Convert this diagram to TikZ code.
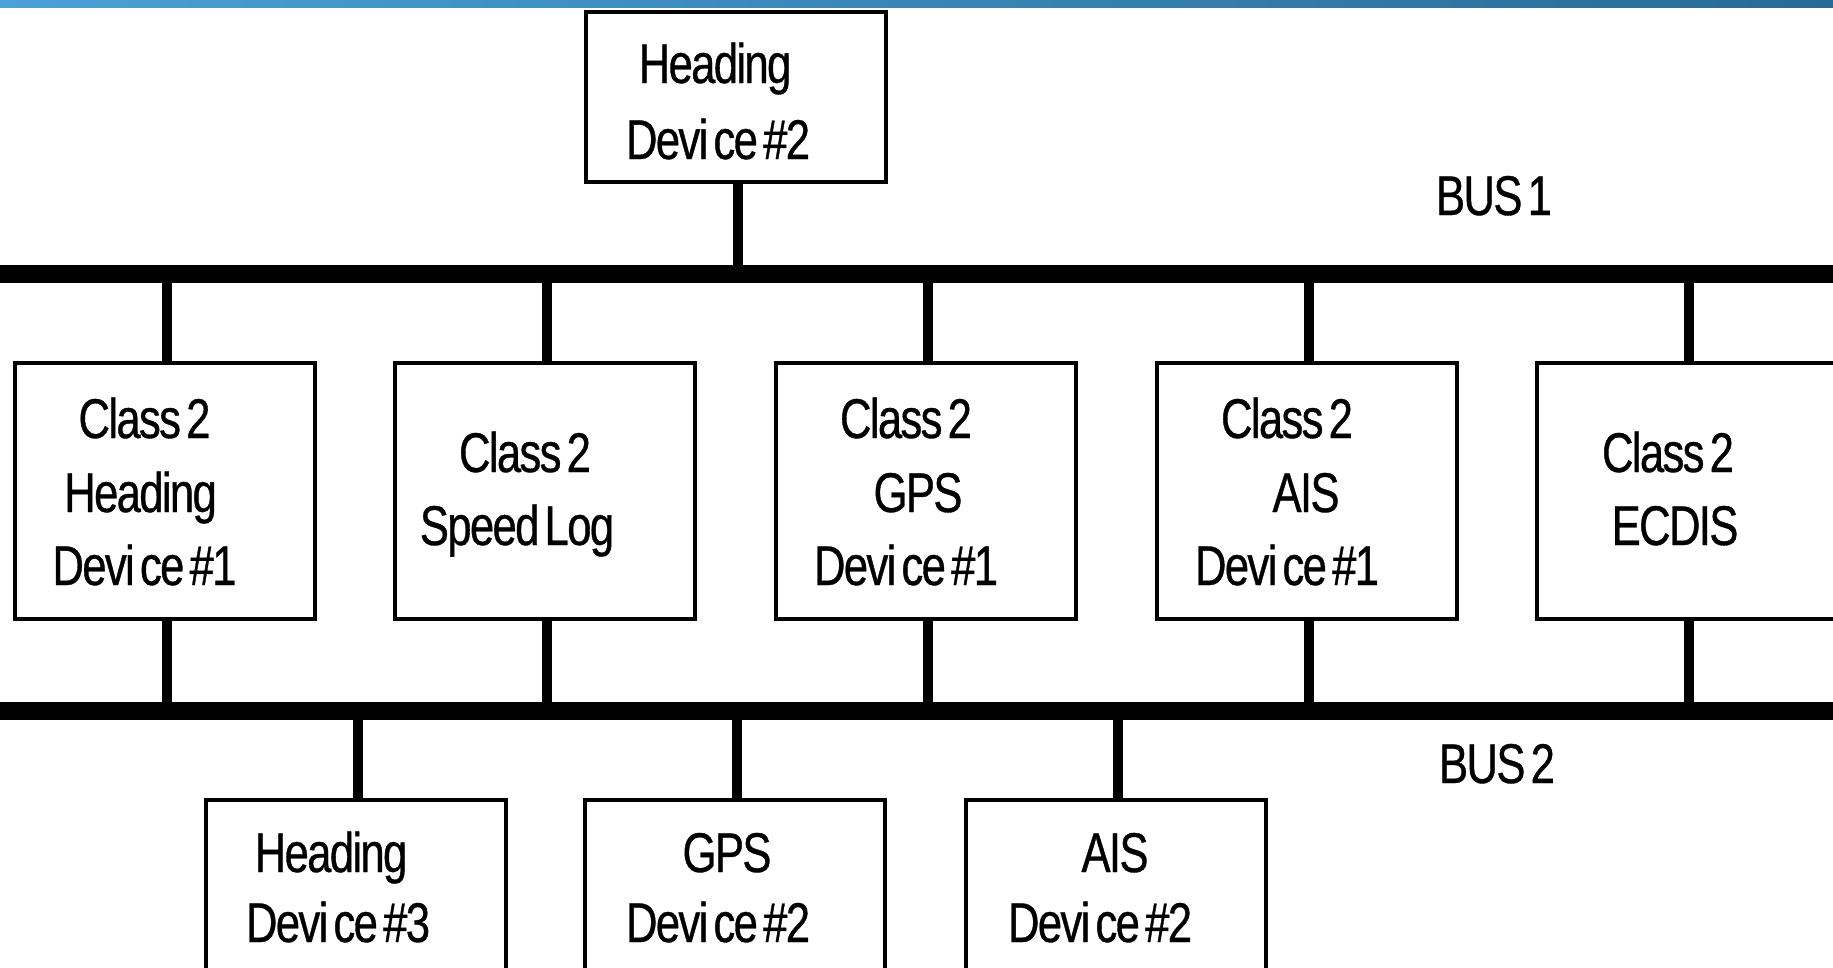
\documentclass[tikz,border=0pt]{standalone}
\usepackage{fontspec}
\newfontfamily\narrowfont[FakeStretch=0.78,LetterSpace=-3,WordSpace=0.5,FakeBold=0.6]{Liberation Sans}
\definecolor{barL}{RGB}{74,161,213}
\definecolor{barR}{RGB}{40,106,150}
\begin{document}
\begin{tikzpicture}[x=1pt,y=-1pt,
  devbox/.style={draw=black,line width=4pt,fill=white,inner sep=0pt,outer sep=0pt,minimum width=300pt},
  busline/.style={line width=18pt,black},
  tap/.style={line width=10pt,black},
  lbl/.style={font=\narrowfont\fontsize{56}{62}\selectfont,inner sep=0pt,anchor=base}]
\useasboundingbox (0,0) rectangle (1833,967);
\clip (0,0) rectangle (1833,967);
\fill[white] (0,0) rectangle (1833,967);
\shade[left color=barL,right color=barR] (0,0) rectangle (1833,7);

% buses
\coordinate (b1L) at (0,274);
\coordinate (b1R) at (1833,274);
\coordinate (b2L) at (0,711);
\coordinate (b2R) at (1833,711);

% boxes
\node[devbox,minimum height=170pt] (top) at (735.5,96.5) {};
\node[devbox,minimum height=256.5pt] (m1) at (164.5,491) {};
\node[devbox,minimum height=256.5pt] (m2) at (545,491) {};
\node[devbox,minimum height=256.5pt] (m3) at (926,491) {};
\node[devbox,minimum height=256.5pt] (m4) at (1307,491) {};
\node[devbox,minimum height=256.5pt] (m5) at (1687,491) {};
\node[devbox,minimum height=256pt] (d1) at (355.5,928) {};
\node[devbox,minimum height=256pt] (d2) at (734.5,928) {};
\node[devbox,minimum height=256pt] (d3) at (1115.5,928) {};

% connectors
\draw[tap] ([xshift=2pt]top.south) -- ([xshift=2pt]top.south |- b1L);
\foreach \n in {m1,m2,m3,m4,m5}{
  \draw[tap] ([xshift=2pt]\n.north) -- ([xshift=2pt]\n.north |- b1L);
  \draw[tap] ([xshift=2pt]\n.south) -- ([xshift=2pt]\n.south |- b2L);
}
\foreach \n in {d1,d2,d3}{
  \draw[tap] ([xshift=2pt]\n.north) -- ([xshift=2pt]\n.north |- b2L);
}
\draw[busline] (b1L) -- (b1R);
\draw[busline] (b2L) -- (b2R);

% labels
\node[lbl] (tt1) at (715,83) {Heading};
\node[lbl] (tt2) at (718,159) {Devi ce \#2};

\node[lbl] (m1a) at (144.5,438) {Class 2};
\node[lbl] (m1b) at (140.5,512) {Heading};
\node[lbl] (m1c) at (144.5,585) {Devi ce \#1};

\node[lbl] (m2a) at (525,472) {Class 2};
\node[lbl] (m2b) at (517,545) {Speed Log};

\node[lbl] (m3a) at (906,438) {Class 2};
\node[lbl] (m3b) at (918,512) {GPS};
\node[lbl] (m3c) at (906,585) {Devi ce \#1};

\node[lbl] (m4a) at (1287,438) {Class 2};
\node[lbl] (m4b) at (1306,512) {AIS};
\node[lbl] (m4c) at (1287,585) {Devi ce \#1};

\node[lbl] (m5a) at (1668,472) {Class 2};
\node[lbl] (m5b) at (1675,545) {ECDIS};

\node[lbl] (d1a) at (331,872) {Heading};
\node[lbl] (d1b) at (338,942) {Devi ce \#3};
\node[lbl] (d2a) at (727,872) {GPS};
\node[lbl] (d2b) at (718,942) {Devi ce \#2};
\node[lbl] (d3a) at (1115,872) {AIS};
\node[lbl] (d3b) at (1100,942) {Devi ce \#2};

\node[lbl] (bus1) at (1494,215) {BUS 1};
\node[lbl] (bus2) at (1497,783) {BUS 2};
\end{tikzpicture}
\end{document}
